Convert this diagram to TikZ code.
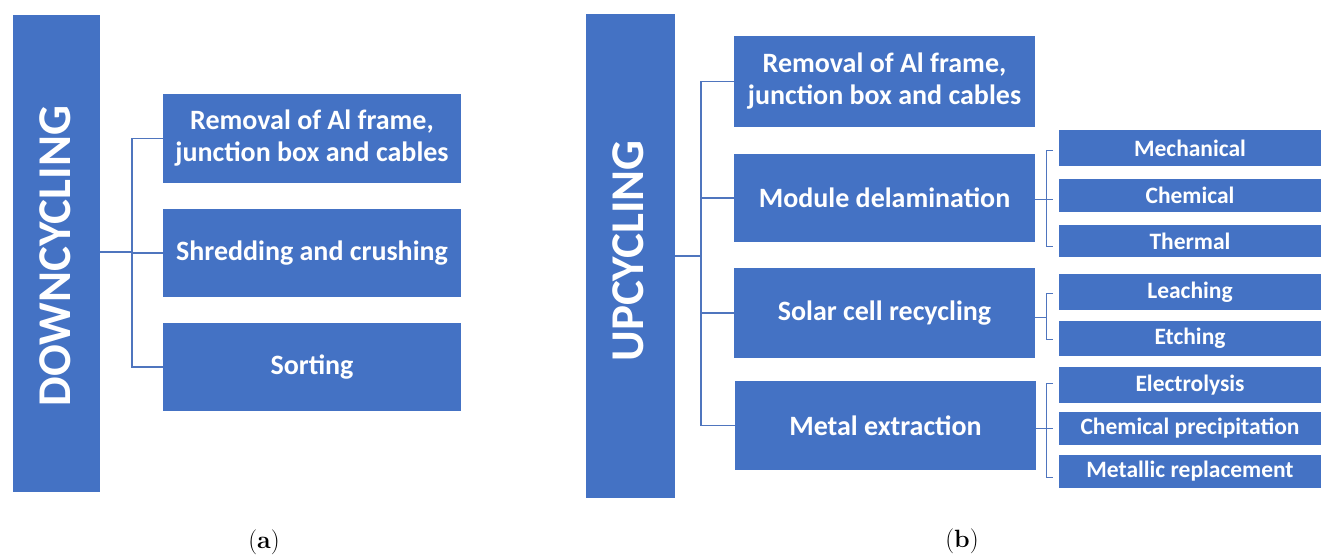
\documentclass[tikz,border=0pt]{standalone}
\usepackage{fontspec}
\setmainfont{Carlito}
\newfontfamily\capfont{Latin Modern Roman}
\definecolor{boxblue}{HTML}{4472C4}
\definecolor{lineblue}{HTML}{4F75BE}
\begin{document}
\begin{tikzpicture}[x=1pt,y=-1pt,
  mainbar/.style={fill=boxblue,draw=none,inner sep=0pt},
  mainbox/.style={fill=boxblue,draw=none,inner sep=0pt,text=white,align=center,
    font=\fontsize{28}{32}\selectfont\bfseries,minimum width=300pt},
  subbox/.style={fill=boxblue,draw=none,inner sep=0pt,text=white,align=center,
    font=\fontsize{23.5}{26}\selectfont\bfseries,minimum width=262pt},
  conn/.style={draw=lineblue,line width=1.3pt},
  bartext/.style={text=white,font=\fontsize{47}{50}\selectfont\bfseries,rotate=90},
  captxt/.style={font=\capfont\fontsize{25}{28}\selectfont}]
\useasboundingbox (0,0) rectangle (1324,556);

% ---------- (a) Downcycling ----------
\node[mainbar,minimum width=87pt,minimum height=477pt] (dbar) at (56.5,253.5) {};
\node[bartext] (dtext) at (55,256) {DOWNCYCLING};
\node[mainbox,minimum width=298pt,minimum height=89pt] (d1) at (312,138.5) {Removal of Al frame,\\junction box and cables};
\node[mainbox,minimum width=298pt,minimum height=88pt] (d2) at (312,253) {Shredding and crushing};
\node[mainbox,minimum width=298pt,minimum height=88pt] (d3) at (312,367) {Sorting};
\coordinate (dj) at (132,252);
\draw[conn] (dbar.east |- dj) -- (dj);
\draw[conn] (d1.west) -- (132,138.5) -- (132,367) -- (d3.west);
\draw[conn] (132,253) -- (d2.west);

% ---------- (b) Upcycling ----------
\node[mainbar,minimum width=89pt,minimum height=484pt] (ubar) at (630.5,256) {};
\node[bartext] (utext) at (628,251) {UPCYCLING};
\node[mainbox,minimum width=301pt,minimum height=91pt] (u1) at (884.5,81.5) {Removal of Al frame,\\junction box and cables};
\node[mainbox,minimum width=301pt,minimum height=88pt] (u2) at (884.5,198) {Module delamination};
\node[mainbox,minimum width=301pt,minimum height=90pt] (u3) at (884.5,313) {Solar cell recycling};
\node[mainbox,minimum width=301pt,minimum height=89pt] (u4) at (885.5,425.5) {Metal extraction};
\coordinate (uj) at (701,256);
\draw[conn] (ubar.east |- uj) -- (uj);
\draw[conn] (u1.west) -- (701,81.5) -- (701,425.5) -- (u4.west);
\draw[conn] (701,198) -- (u2.west);
\draw[conn] (701,313) -- (u3.west);

% sub boxes
\node[subbox,minimum height=36pt] (s1) at (1190,148) {Mechanical};
\node[subbox,minimum height=33pt] (s2) at (1190,195.5) {Chemical};
\node[subbox,minimum height=32pt] (s3) at (1190,241) {Thermal};
\node[subbox,minimum height=36pt] (s4) at (1190,292) {Leaching};
\node[subbox,minimum height=35pt] (s5) at (1190,338.5) {Etching};
\node[subbox,minimum height=36pt] (s6) at (1190,385) {Electrolysis};
\node[subbox,minimum height=33pt] (s7) at (1190,428.5) {Chemical precipitation};
\node[subbox,minimum height=33pt] (s8) at (1190,471.5) {Metallic replacement};

% sub brackets
\draw[conn,line width=1pt] (1053,151) -- (1046,151) -- (1046,246) -- (1053,246);
\draw[conn,line width=1pt] (u2.east |- 0,199) -- (1053,199);
\draw[conn,line width=1pt] (1053,293) -- (1046,293) -- (1046,339) -- (1053,339);
\draw[conn,line width=1pt] (u3.east |- 0,317) -- (1046,317);
\draw[conn,line width=1pt] (1053,383) -- (1046,383) -- (1046,477) -- (1053,477);
\draw[conn,line width=1pt] (u4.east |- 0,428) -- (1053,428);

% captions
\node[captxt] (capa) at (264,542) {(\textbf{a})};
\node[captxt] (capb) at (962,541) {(\textbf{b})};
\end{tikzpicture}
\end{document}
